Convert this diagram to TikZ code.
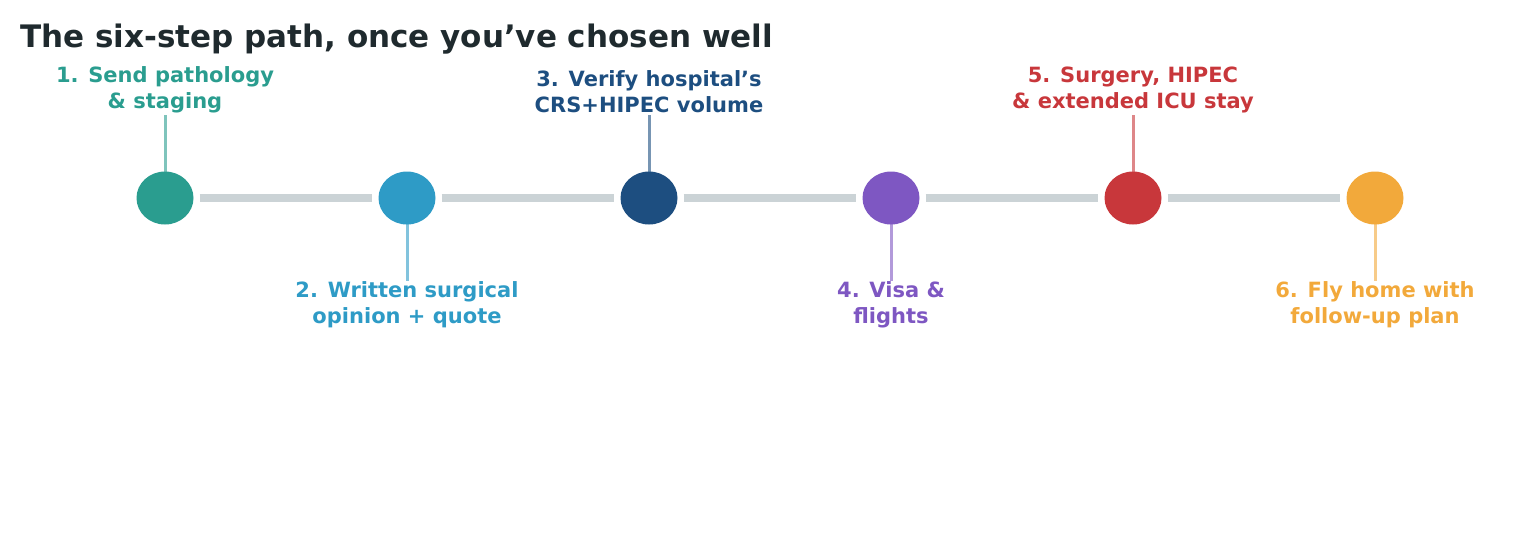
\documentclass[tikz,border=0pt]{standalone}
\usepackage{fontspec}
\usetikzlibrary{shapes.geometric}
\setmainfont{DejaVu Sans}
\begin{document}
\definecolor{c1}{HTML}{2A9D8F}\definecolor{c2}{HTML}{2E9BC6}\definecolor{c3}{HTML}{1D4E80}
\definecolor{c4}{HTML}{7E57C2}\definecolor{c5}{HTML}{C8373B}\definecolor{c6}{HTML}{F2A93B}
\definecolor{ttl}{HTML}{1F2A2E}\definecolor{rail}{HTML}{CBD3D6}
\begin{tikzpicture}[x=1pt,y=-1pt,
  dot/.style={ellipse,minimum width=57pt,minimum height=53pt,inner sep=0pt,fill=#1},
  stem/.style={draw=#1,draw opacity=0.6,line width=3pt},
  lab/.style={text=#1,font=\fontsize{21}{26}\selectfont\bfseries,align=center,inner sep=0pt}]
\useasboundingbox (0,0) rectangle (1539,558);
\node[anchor=base west,text=ttl,font=\fontsize{31}{36}\selectfont\bfseries,inner sep=0pt] (t) at (20,47) {The six-step path, once you've chosen well};
\foreach \i/\x in {1/165,2/407,3/649,4/891,5/1133,6/1375}{
  \node[dot=c\i] (d\i) at (\x,198) {};}
\foreach \a/\b in {1/2,2/3,3/4,4/5,5/6}{
  \draw[rail,line width=8pt,shorten <=6pt,shorten >=6pt] (d\a.east) -- (d\b.west);}
\foreach \i/\x/\t in {1/165/{1. Send pathology\\\& staging},3/649/{3. Verify hospital's\\CRS+HIPEC volume},5/1133/{5. Surgery, HIPEC\\\& extended ICU stay}}{
  \node[lab=c\i,anchor=south] (l\i) at (\x,113) {\t};
  \coordinate (s\i) at (\x,115);
  \draw[stem=c\i] (s\i) -- ([yshift=-6pt]d\i.north);}
\foreach \i/\x/\t in {2/407/{2. Written surgical\\opinion + quote},4/891/{4. Visa \&\\flights},6/1375/{6. Fly home with\\follow-up plan}}{
  \node[lab=c\i,anchor=north] (l\i) at (\x,281) {\t};
  \coordinate (s\i) at (\x,281);
  \draw[stem=c\i] ([yshift=6pt]d\i.south) -- (s\i);}
\end{tikzpicture}
\end{document}
